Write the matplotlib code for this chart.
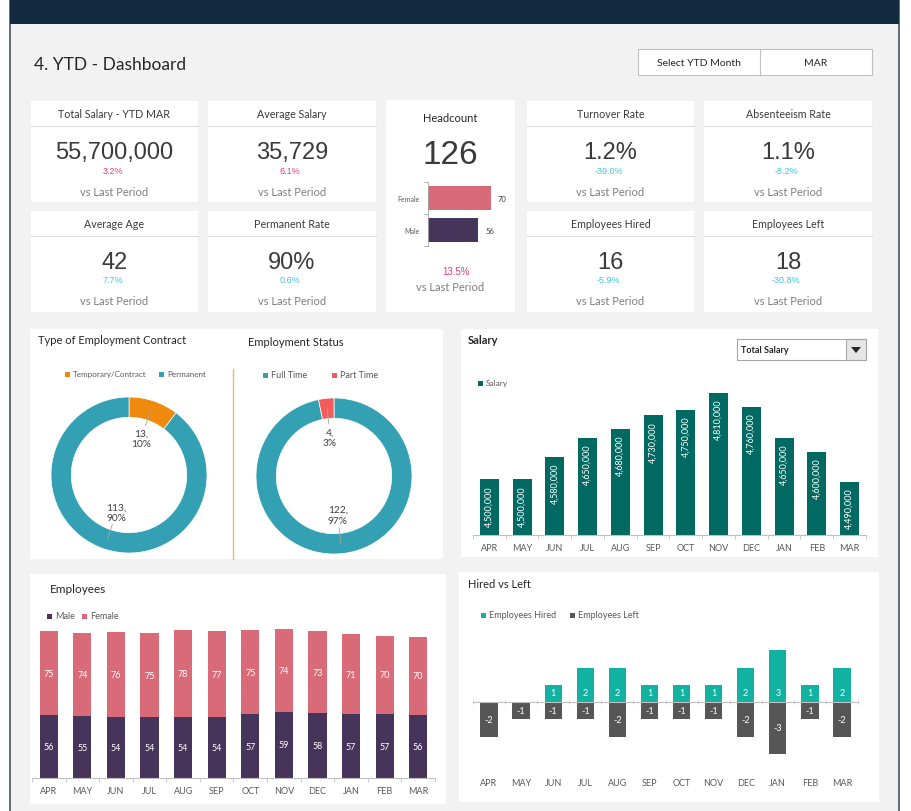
import numpy as np
import matplotlib.pyplot as plt
from matplotlib.patches import Rectangle, Polygon

plt.rcParams['font.family'] = ['Lato', 'DejaVu Sans']
NUM_FONT = ['Liberation Sans', 'DejaVu Sans']

W, H = 912, 812

# ---- data ----
months = ['APR', 'MAY', 'JUN', 'JUL', 'AUG', 'SEP', 'OCT', 'NOV', 'DEC', 'JAN', 'FEB', 'MAR']
salary = [4500000, 4500000, 4580000, 4650000, 4680000, 4730000,
          4750000, 4810000, 4760000, 4650000, 4600000, 4490000]
male = [56, 55, 54, 54, 54, 54, 57, 59, 58, 57, 57, 56]
female = [75, 74, 76, 75, 78, 77, 75, 74, 73, 71, 70, 70]
hired = [0, 0, 1, 2, 2, 1, 1, 1, 2, 3, 1, 2]
left = [-2, -1, -1, -1, -2, -1, -1, -1, -2, -3, -1, -2]

contract_labels = ['Temporary/Contract', 'Permanent']
contract_values = [13, 113]
status_labels = ['Full Time', 'Part Time']
status_values = [122, 4]

gender_labels = ['Male', 'Female']
gender_values = [56, 70]
headcount = '126'
headcount_change = '13.5%'

kpi_titles = ['Total Salary - YTD MAR', 'Average Salary', 'Turnover Rate', 'Absenteeism Rate',
              'Average Age', 'Permanent Rate', 'Employees Hired', 'Employees Left']
kpi_values = ['55,700,000', '35,729', '1.2%', '1.1%', '42', '90%', '16', '18']
kpi_changes = ['3.2%', '6.1%', '-39.0%', '-8.2%', '7.7%', '0.6%', '-5.9%', '-30.8%']
kpi_pink = [True, True, False, False, False, False, False, False]

# ---- colours ----
PINK = '#e63e80'
CYAN = '#3fc6d8'
C_FEMALE = '#d96a78'
C_MALE = '#47345a'
C_ORANGE = '#ef8a0c'
C_TEAL = '#33a0b4'
C_RED = '#f45b5b'
C_SAL = '#006a62'
C_HIRED = '#12b2a2'
C_LEFT = '#565656'
DARK = '#3a3a3a'
GRAY = '#7f7f7f'
AXGRAY = '#c0c0c0'

fig = plt.figure(figsize=(W / 100, H / 100), dpi=100)
bg = fig.add_axes([0, 0, 1, 1])
bg.set_xlim(0, W)
bg.set_ylim(H, 0)
bg.axis('off')


def box(x0, y0, x1, y1, fc='white', ec='none', lw=0, z=1):
    bg.add_patch(Rectangle((x0, y0), x1 - x0, y1 - y0, facecolor=fc,
                           edgecolor=ec, linewidth=lw, zorder=z))


def px_axes(x0, y0, x1, y1):
    return fig.add_axes([x0 / W, 1 - y1 / H, (x1 - x0) / W, (y1 - y0) / H])


def legend_item(x, y, color, label, size=6):
    box(x, y - 2.5, x + 5, y + 2.5, fc=color, z=3)
    bg.text(x + 8, y, label, fontsize=size, color='#595959', va='center', ha='left', zorder=3)


# frame and header band
box(10, -2, 899, H + 2, fc='#f2f2f2', ec='#44546a', lw=1.2)
box(10, 0, 899, 25, fc='#132b40', z=2)

bg.text(34, 65, '4. YTD - Dashboard', fontsize=12.5, color='#262626', va='center', ha='left')

# month selector
box(638, 50, 872, 76, fc='white', ec='#bfbfbf', lw=0.8)
bg.plot([760, 760], [50, 76], color='#bfbfbf', lw=0.8, zorder=2)
bg.text(699, 63, 'Select YTD Month', fontsize=7.5, color='#262626', ha='center', va='center')
bg.text(816, 63, 'MAR', fontsize=7.5, color='#262626', ha='center', va='center')

# KPI cards
cols = [(31, 198), (208, 376), (527, 694), (704, 872)]
rows = [(102, 203), (212, 313)]
for k, title in enumerate(kpi_titles):
    x0, x1 = cols[k % 4]
    y0, y1 = rows[k // 4]
    cx = (x0 + x1) / 2
    box(x0, y0, x1, y1)
    bg.plot([x0, x1], [y0 + 25, y0 + 25], color='#dcdcdc', lw=0.8, zorder=2)
    bg.text(cx, y0 + 13, title, fontsize=7.7, color=DARK, ha='center', va='center', zorder=3)
    bg.text(cx, y0 + 51, kpi_values[k], fontsize=17, color=DARK, ha='center', va='center',
            family=NUM_FONT, zorder=3)
    bg.text(cx - 2, y0 + 69, kpi_changes[k], fontsize=6.5, color=PINK if kpi_pink[k] else CYAN,
            ha='center', va='center', family=NUM_FONT, zorder=3)
    bg.text(cx, y0 + 90, 'vs Last Period', fontsize=8, color=GRAY, ha='center', va='center', zorder=3)

# headcount card
box(386, 101, 515, 313)
bg.text(450, 118, 'Headcount', fontsize=8, color='#262626', ha='center', va='center', zorder=3)
bg.text(450, 155, headcount, fontsize=24, color=DARK, ha='center', va='center', family=NUM_FONT, zorder=3)
bg.text(456, 272, headcount_change, fontsize=7, color=PINK, ha='center', va='center', family=NUM_FONT, zorder=3)
bg.text(450, 288, 'vs Last Period', fontsize=8, color=GRAY, ha='center', va='center', zorder=3)

ax_hc = px_axes(428, 183, 500, 247)
ax_hc.set_facecolor('none')
ypos = np.arange(len(gender_labels))
ax_hc.barh(ypos, gender_values, height=0.72, color=[C_MALE, C_FEMALE])
for yy, v in zip(ypos, gender_values):
    ax_hc.annotate(str(v), (v, yy), xytext=(5, 0), textcoords='offset points',
                   fontsize=5.5, color='#404040', va='center', ha='left')
ax_hc.set_xlim(0, 80)
ax_hc.set_ylim(-0.5, 1.5)
ax_hc.set_yticks(ypos)
ax_hc.set_yticklabels(gender_labels, fontsize=5, color='#595959')
ax_hc.set_yticks([-0.5, 0.5, 1.5], minor=True)
ax_hc.tick_params(axis='y', which='major', length=0, pad=6)
ax_hc.tick_params(axis='y', which='minor', length=3, color='#a6a6a6', width=0.6)
ax_hc.set_xticks([])
for s in ['top', 'right', 'bottom']:
    ax_hc.spines[s].set_visible(False)
ax_hc.spines['left'].set_color('#a6a6a6')
ax_hc.spines['left'].set_linewidth(0.6)

# ---- donut panel ----
box(30, 330, 443, 560)
bg.plot([233, 233], [370, 560], color='#f4b183', lw=1, zorder=2)
bg.text(38, 341, 'Type of Employment Contract', fontsize=8, color='#262626', va='center', ha='left', zorder=3)
bg.text(248, 343, 'Employment Status', fontsize=8, color='#262626', va='center', ha='left', zorder=3)
legend_item(65, 375, C_ORANGE, contract_labels[0], size=5.8)
legend_item(159, 375, C_TEAL, contract_labels[1], size=5.8)
legend_item(263, 376, C_TEAL, status_labels[0], size=6.5)
legend_item(332, 376, C_RED, status_labels[1], size=6.5)


def donut(cx, cy, r, values, colors):
    ax = px_axes(cx - r, cy - r, cx + r, cy + r)
    ax.pie(values, colors=colors, startangle=90, counterclock=False, radius=1,
           wedgeprops=dict(width=0.26, edgecolor='white', linewidth=0.5))
    ax.set_xlim(-1, 1)
    ax.set_ylim(-1, 1)
    ax.set_aspect('equal')
    total = sum(values)
    start = 90.0
    for v in values:
        sweep = 360.0 * v / total
        mid = np.deg2rad(start - sweep / 2)
        start -= sweep
        ca, sa = np.cos(mid), np.sin(mid)
        ax.plot([0.87 * ca, 0.67 * ca], [0.87 * sa, 0.67 * sa], color='#a6a6a6', lw=0.6)
        ax.text(0.5 * ca, 0.5 * sa, f'{v},\n{round(100 * v / total)}%', fontsize=7.3,
                color='#404040', ha='center', va='center', linespacing=1.2)


donut(129, 476, 78, contract_values, [C_ORANGE, C_TEAL])
donut(334, 477, 78, status_values, [C_TEAL, C_RED])

# ---- salary panel ----
box(461, 330, 878, 558)
bg.text(468, 341, 'Salary', fontsize=8, color='#262626', va='center', ha='left', weight='bold', zorder=3)
box(737, 340, 866, 361, fc='white', ec='#a6a6a6', lw=0.8, z=2)
box(846, 340, 866, 361, fc='#e6e6e6', ec='#a6a6a6', lw=0.8, z=3)
bg.add_patch(Polygon([[851, 348], [861, 348], [856, 354]], closed=True, facecolor='#262626', zorder=4))
bg.text(741, 351, 'Total Salary', fontsize=6.5, color='#262626', va='center', ha='left', weight='bold', zorder=3)
legend_item(478, 384, C_SAL, 'Salary')

x = np.arange(len(months))


def month_axis(ax):
    ax.set_xlim(-0.5, len(months) - 0.5)
    ax.set_xticks(x)
    ax.set_xticklabels(months, fontsize=6.5, color='#595959')
    ax.set_xticks(np.arange(len(months) + 1) - 0.5, minor=True)
    ax.tick_params(axis='x', which='major', length=0, pad=6)
    ax.tick_params(axis='x', which='minor', length=3, color=AXGRAY, width=0.6)
    ax.set_yticks([])
    for s in ['top', 'right', 'left']:
        ax.spines[s].set_visible(False)
    ax.spines['bottom'].set_color(AXGRAY)
    ax.spines['bottom'].set_linewidth(0.8)
    ax.set_facecolor('none')


ax_s = px_axes(473, 369, 866, 536)
ax_s.bar(x, salary, width=0.58, color=C_SAL)
ax_s.set_ylim(4300000, 4900000)
month_axis(ax_s)
for xi, v in zip(x, salary):
    ax_s.annotate(f'{v:,}', (xi, v), xytext=(0, -4), textcoords='offset points', rotation=90,
                  ha='center', va='top', fontsize=6.5, color='white')

# ---- employees panel ----
box(30, 575, 446, 805)
bg.text(50, 590, 'Employees', fontsize=8.5, color='#262626', va='center', ha='left', zorder=3)
legend_item(47, 617, C_MALE, 'Male', size=6.5)
legend_item(82, 617, C_FEMALE, 'Female', size=6.5)

ax_e = px_axes(32, 622, 435, 779)
ax_e.bar(x, male, width=0.54, color=C_MALE)
ax_e.bar(x, female, width=0.54, bottom=male, color=C_FEMALE)
ax_e.set_ylim(0, 140)
month_axis(ax_e)
for xi, m, f in zip(x, male, female):
    ax_e.text(xi, m / 2, str(m), ha='center', va='center', fontsize=6.5, color='white')
    ax_e.text(xi, m + f / 2, str(f), ha='center', va='center', fontsize=6.5, color='white')

# ---- hired vs left panel ----
box(459, 573, 879, 803)
bg.text(468, 585, 'Hired vs Left', fontsize=8, color='#262626', va='center', ha='left', zorder=3)
legend_item(481, 616, C_HIRED, 'Employees Hired', size=6.5)
legend_item(570, 616, C_LEFT, 'Employees Left', size=6.5)

ax_h = px_axes(473, 634, 858, 772)
ax_h.bar(x, hired, width=0.54, color=C_HIRED)
ax_h.bar(x, left, width=0.54, color=C_LEFT)
ax_h.set_ylim(-4, 4)
month_axis(ax_h)
ax_h.spines['bottom'].set_position(('data', 0))
ax_h.tick_params(axis='x', which='major', labelbottom=False)
ax_h.tick_params(axis='x', which='minor', direction='inout', length=3)
for xi, m in zip(x, months):
    ax_h.annotate(m, (xi, -4), xytext=(0, -8.5), textcoords='offset points',
                  ha='center', va='center', fontsize=6.5, color='#595959')
for xi, hv, lv in zip(x, hired, left):
    if hv:
        ax_h.annotate(str(hv), (xi, 0), xytext=(0, 7), textcoords='offset points',
                      ha='center', va='center', fontsize=6.5, color='white')
    if lv:
        ax_h.text(xi, lv / 2, str(lv), ha='center', va='center', fontsize=6.5, color='white')

fig.savefig('out.png', dpi=100)
